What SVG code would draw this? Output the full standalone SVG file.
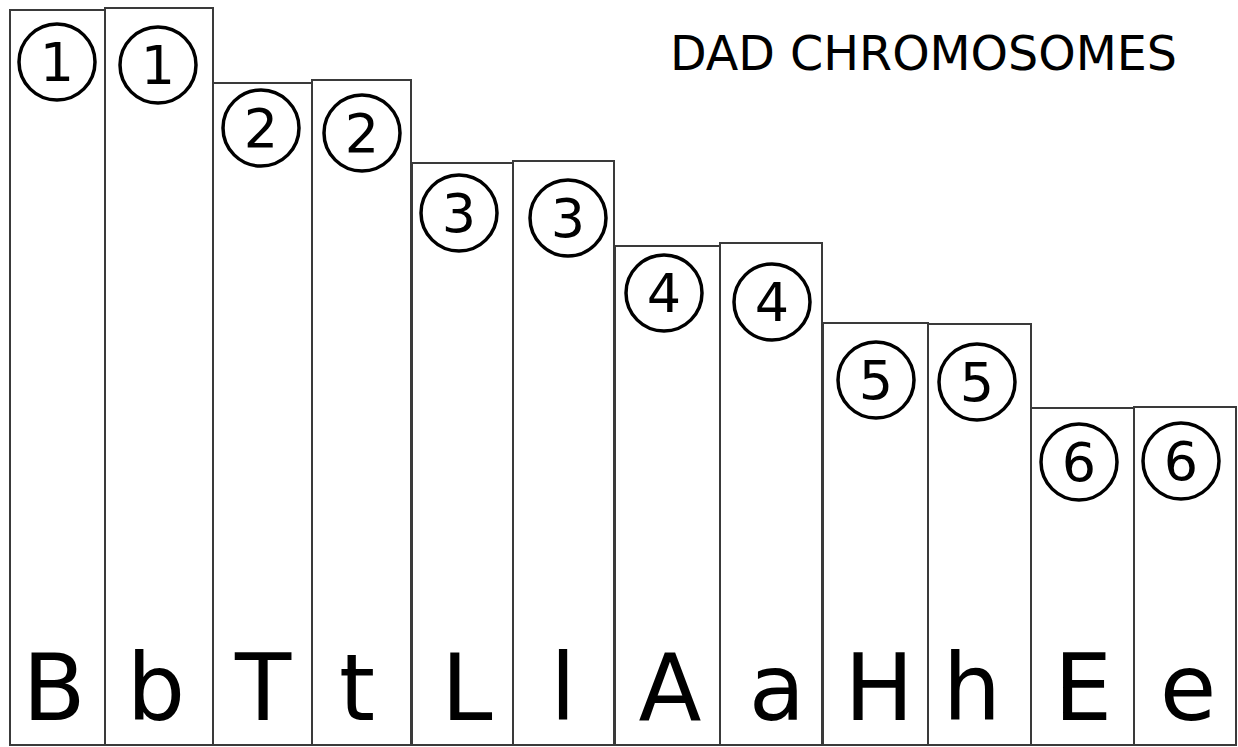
<svg xmlns="http://www.w3.org/2000/svg" width="1238" height="747" viewBox="0 0 1238 747">
<style>
.col{fill:none;stroke:#3a3a3a;stroke-width:2}
.ring{fill:none;stroke:#000;stroke-width:3.5}
.num{font-family:"DejaVu Sans","Liberation Sans",sans-serif;font-size:54px;fill:#000;text-anchor:middle}
.big{font-family:"DejaVu Sans","Liberation Sans",sans-serif;font-size:92px;fill:#000;text-anchor:middle}
.title{font-family:"DejaVu Sans","Liberation Sans",sans-serif;font-size:48px;fill:#000}
</style>
<rect width="1238" height="747" fill="#fff"/>
<text class="title" x="670" y="70" textLength="507" lengthAdjust="spacingAndGlyphs">DAD CHROMOSOMES</text>
<g id="c1"><rect class="col" x="10" y="10" width="95" height="735"/><circle class="ring" cx="57" cy="62" r="38"/><text class="num" x="57" y="81">1</text><text class="big" x="54" y="720">B</text></g>
<g id="c2"><rect class="col" x="105" y="8" width="108" height="737"/><circle class="ring" cx="158" cy="65" r="38"/><text class="num" x="158" y="84">1</text><text class="big" x="156" y="720">b</text></g>
<g id="c3"><rect class="col" x="213" y="83" width="99" height="662"/><circle class="ring" cx="261" cy="128" r="38"/><text class="num" x="261" y="147">2</text><text class="big" x="263" y="720">T</text></g>
<g id="c4"><rect class="col" x="312" y="80" width="99" height="665"/><circle class="ring" cx="362" cy="133" r="38"/><text class="num" x="362" y="152">2</text><text class="big" x="357" y="720">t</text></g>
<g id="c5"><rect class="col" x="412" y="163" width="101" height="582"/><circle class="ring" cx="459" cy="213" r="38"/><text class="num" x="459" y="232">3</text><text class="big" x="467" y="720">L</text></g>
<g id="c6"><rect class="col" x="513" y="161" width="101" height="584"/><circle class="ring" cx="568" cy="218" r="38"/><text class="num" x="568" y="237">3</text><text class="big" x="563" y="720">l</text></g>
<g id="c7"><rect class="col" x="615" y="246" width="105" height="499"/><circle class="ring" cx="664" cy="293" r="38"/><text class="num" x="664" y="312">4</text><text class="big" x="670" y="720">A</text></g>
<g id="c8"><rect class="col" x="720" y="243" width="102" height="502"/><circle class="ring" cx="772" cy="302" r="38"/><text class="num" x="772" y="321">4</text><text class="big" x="777" y="720">a</text></g>
<g id="c9"><rect class="col" x="823" y="323" width="105" height="422"/><circle class="ring" cx="876" cy="380" r="38"/><text class="num" x="876" y="399">5</text><text class="big" x="879" y="720">H</text></g>
<g id="c10"><rect class="col" x="928" y="324" width="103" height="421"/><circle class="ring" cx="977" cy="382" r="38"/><text class="num" x="977" y="401">5</text><text class="big" x="972" y="720">h</text></g>
<g id="c11"><rect class="col" x="1031" y="408" width="103" height="337"/><circle class="ring" cx="1079" cy="462" r="38"/><text class="num" x="1079" y="481">6</text><text class="big" x="1083" y="720">E</text></g>
<g id="c12"><rect class="col" x="1134" y="407" width="102" height="338"/><circle class="ring" cx="1181" cy="461" r="38"/><text class="num" x="1181" y="480">6</text><text class="big" x="1188" y="720">e</text></g>
<g id="connectors"></g>
</svg>
